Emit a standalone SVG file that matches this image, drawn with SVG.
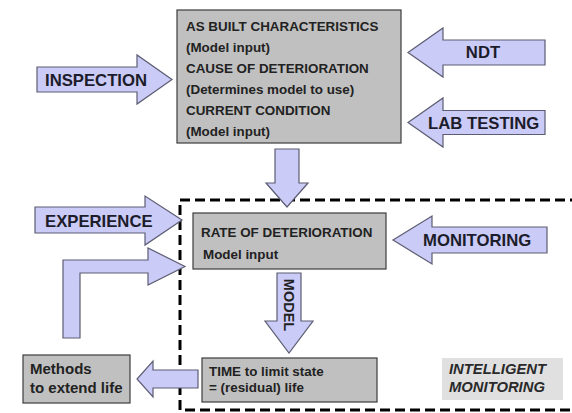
<svg xmlns="http://www.w3.org/2000/svg" width="572" height="413" viewBox="0 0 572 413">
  <style>
    .box { fill: #c0c0c0; stroke: #3c3c3c; stroke-width: 1.2; }
    .arrow { fill: #cbcbf7; stroke: #5c5c72; stroke-width: 1.2; stroke-linejoin: miter; }
    .bt { font-family: "Liberation Sans", Arial, sans-serif; font-weight: bold; font-size: 13.4px; fill: #222; }
    .big { font-size: 15px; }
    .lbl { font-family: "Liberation Sans", Arial, sans-serif; font-weight: bold; font-size: 16.7px; fill: #1c1c2a; }
    .note { font-family: "Liberation Sans", Arial, sans-serif; font-weight: bold; font-style: italic; font-size: 14.8px; fill: #2a2a2a; }
    .vert { font-size: 14.5px; }
    .frame { fill: none; stroke: #000; stroke-width: 3; stroke-dasharray: 10 5; }
  </style>
  <rect width="572" height="413" fill="#fff"/>

  <!-- intelligent monitoring zone -->
  <path class="frame" d="M580,200 H180 V410 H580"/>

  <g id="characteristics">
    <rect class="box" x="177" y="10" width="224" height="133"/>
    <text class="bt" x="186" y="31">AS BUILT CHARACTERISTICS</text>
    <text class="bt" x="186" y="52">(Model input)</text>
    <text class="bt" x="186" y="73">CAUSE OF DETERIORATION</text>
    <text class="bt" x="186" y="94">(Determines model to use)</text>
    <text class="bt" x="186" y="115">CURRENT CONDITION</text>
    <text class="bt" x="186" y="136">(Model input)</text>
  </g>

  <g id="inspection">
    <polygon class="arrow" points="37,67 137,67 137,55 172,79.5 137,104 137,92 37,92"/>
    <text class="lbl" x="45" y="86">INSPECTION</text>
  </g>

  <g id="ndt">
    <polygon class="arrow" points="545,40 443,40 443,28 408,52.5 443,77 443,65 545,65"/>
    <text class="lbl" x="483" y="58" text-anchor="middle">NDT</text>
  </g>

  <g id="lab-testing">
    <polygon class="arrow" points="545,110.5 443,110.5 443,98 408,122.5 443,147 443,134.5 545,134.5"/>
    <text class="lbl" x="428" y="129">LAB TESTING</text>
  </g>

  <g id="rate">
    <rect class="box" x="193" y="213" width="193" height="56"/>
    <text class="bt" x="201" y="237">RATE OF DETERIORATION</text>
    <text class="bt" x="203" y="259">Model input</text>
  </g>

  <g id="monitoring">
    <polygon class="arrow" points="547,227 432,227 432,216 393,240 432,264 432,253 547,253"/>
    <text class="lbl" x="423" y="246">MONITORING</text>
  </g>

  <g id="experience">
    <polygon class="arrow" points="35,207 145,207 145,196 182,220 145,245 145,233 35,233"/>
    <text class="lbl" x="45" y="227">EXPERIENCE</text>
  </g>

  <g id="time">
    <rect class="box" x="202" y="358" width="175" height="44"/>
    <text class="bt" x="209" y="376">TIME to limit state</text>
    <text class="bt" x="209" y="392">= (residual) life</text>
  </g>

  <g id="methods">
    <rect class="box" x="23" y="355" width="107" height="48"/>
    <text class="bt big" x="30" y="374">Methods</text>
    <text class="bt big" x="30" y="393">to extend life</text>
  </g>

  <g id="intelligent-monitoring">
    <rect x="442" y="358" width="121" height="42" fill="#e0e0e0"/>
    <text class="note" x="449" y="374">INTELLIGENT</text>
    <text class="note" x="449" y="392">MONITORING</text>
  </g>

  <g id="connectors">
    <polygon class="arrow" points="275,149 299,149 299,183 308,183 287,207 266,183 275,183"/>
    <polygon class="arrow" points="277,273 301,273 301,321 313,321 289,353 265,321 277,321"/>
    <text class="bt vert" x="289" y="310" text-anchor="middle" transform="rotate(90 289 305)">MODEL</text>
    <polygon class="arrow" points="198,370 153,370 153,361 137,379 153,397 153,388 198,388"/>
    <polygon class="arrow" points="63,338 63,260 148,260 148,248 185,266.5 148,285 148,273 80,273 80,338"/>
  </g>
</svg>
